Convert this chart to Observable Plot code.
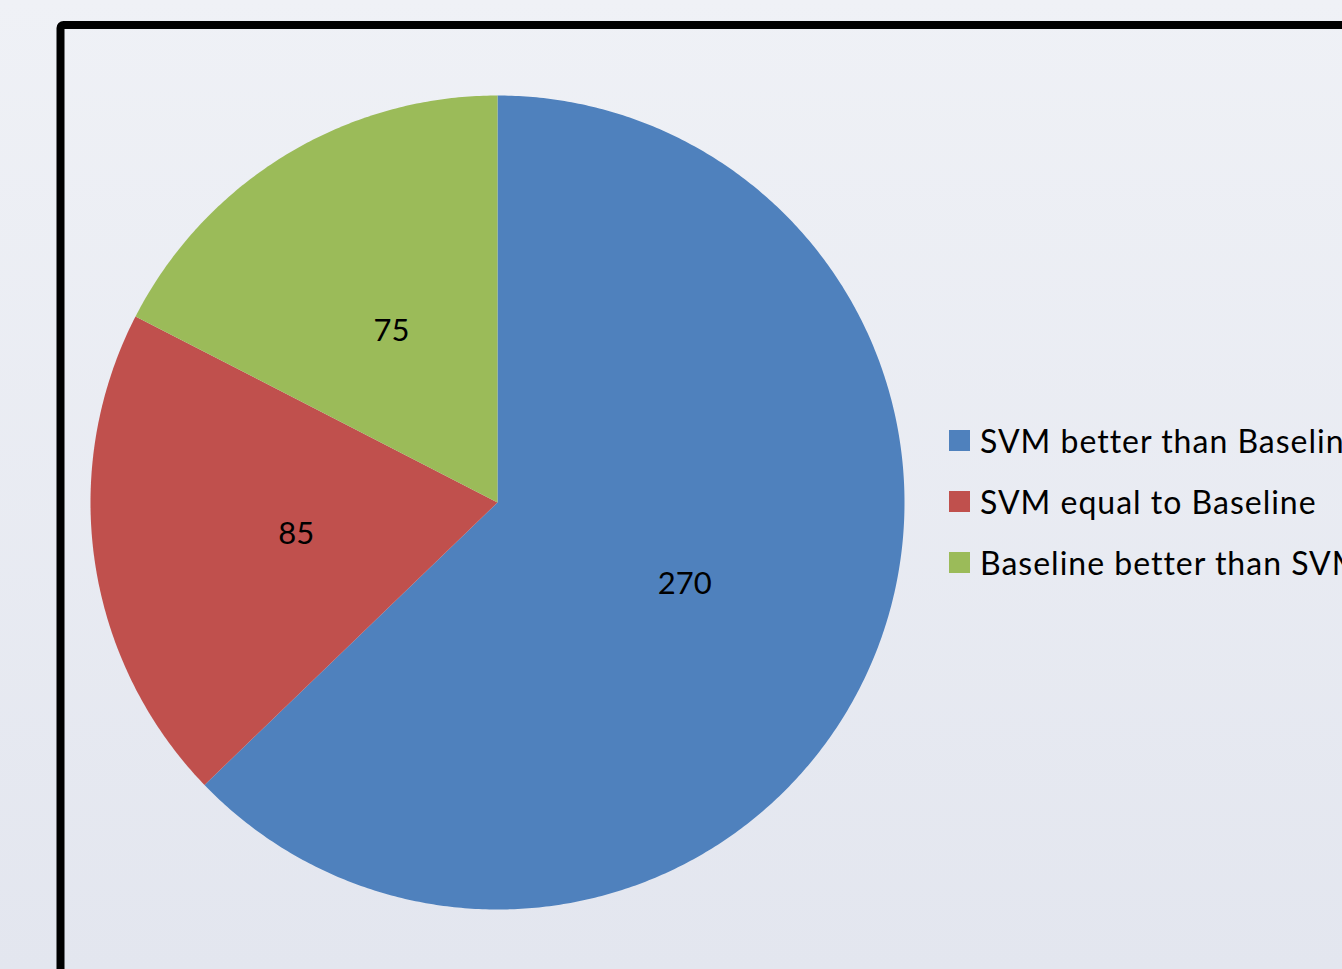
<!DOCTYPE html>
<html>
<head>
<meta charset="utf-8">
<script src="https://cdn.jsdelivr.net/npm/d3@7"></script>
<script src="https://cdn.jsdelivr.net/npm/@observablehq/plot@0.6"></script>
<style>
  html, body { margin: 0; padding: 0; width: 1342px; height: 969px; overflow: hidden; }
  body { background: linear-gradient(to bottom, #eff1f6 0%, #e3e6ef 100%); font-family: Lato, "Open Sans", sans-serif; }
  #wrap { position: relative; width: 1342px; height: 969px; }
  #legend { position: absolute; left: 949px; top: 0; white-space: nowrap; }
  .item { position: absolute; left: 0; display: flex; align-items: center; font-size: 32px; letter-spacing: 1px; color: #000; }
  .sw { width: 21px; height: 21px; margin-right: 10px; flex: none; }
  svg { background: transparent !important; }
</style>
</head>
<body>
<div id="wrap"></div>
<script>
const categories = ["SVM better than Baseline", "SVM equal to Baseline", "Baseline better than SVM"];
const values = [270, 85, 75];
const colors = ["#4f81bd", "#c0504d", "#9bbb59"];

const pie = d3.pie().sort(null).value(d => d.value).startAngle(0).endAngle(2 * Math.PI);
const arcs = pie(categories.map((c, i) => ({key: c, value: values[i]})));

// polygon outline for each slice (angles clockwise from 12 o'clock)
const poly = [];
for (const a of arcs) {
  poly.push({key: a.data.key, x: 0, y: 0});
  const n = Math.max(2, Math.ceil((a.endAngle - a.startAngle) / (Math.PI / 360)));
  for (let k = 0; k <= n; k++) {
    const t = a.startAngle + (a.endAngle - a.startAngle) * k / n;
    poly.push({key: a.data.key, x: Math.sin(t), y: Math.cos(t)});
  }
  poly.push({key: a.data.key, x: 0, y: 0});
}
const labels = arcs.map(a => {
  const t = (a.startAngle + a.endAngle) / 2;
  return {key: a.data.key, value: a.data.value, x: 0.5 * Math.sin(t), y: 0.5 * Math.cos(t)};
});

const chart = Plot.plot({
  width: 1342,
  height: 969,
  margin: 0,
  x: {domain: [-1, 1], range: [90, 904], axis: null},
  y: {domain: [-1, 1], range: [909, 95], axis: null},
  color: {domain: categories, range: colors},
  style: {background: "transparent", overflow: "hidden"},
  marks: [
    Plot.frame({stroke: "#000", strokeWidth: 8, rx: 3, insetLeft: 60, insetTop: 24.5, insetRight: -20, insetBottom: -20}),
    Plot.line(poly, {x: "x", y: "y", z: "key", fill: "key", stroke: "none", curve: "linear-closed"}),
    Plot.text(labels, {x: "x", y: "y", dy: 2, text: d => String(d.value), fontSize: 31, fill: "#000", fontFamily: "Lato, 'Open Sans', sans-serif"})
  ]
});
const wrap = document.getElementById("wrap");
wrap.appendChild(chart);

const legend = document.createElement("div");
legend.id = "legend";
categories.forEach((c, i) => {
  const it = document.createElement("div");
  it.className = "item";
  it.style.top = (421 + i * 61) + "px";
  const sw = document.createElement("span");
  sw.className = "sw";
  sw.style.background = colors[i];
  const tx = document.createElement("span");
  tx.textContent = c;
  it.appendChild(sw); it.appendChild(tx);
  legend.appendChild(it);
});
wrap.appendChild(legend);
</script>
</body>
</html>
